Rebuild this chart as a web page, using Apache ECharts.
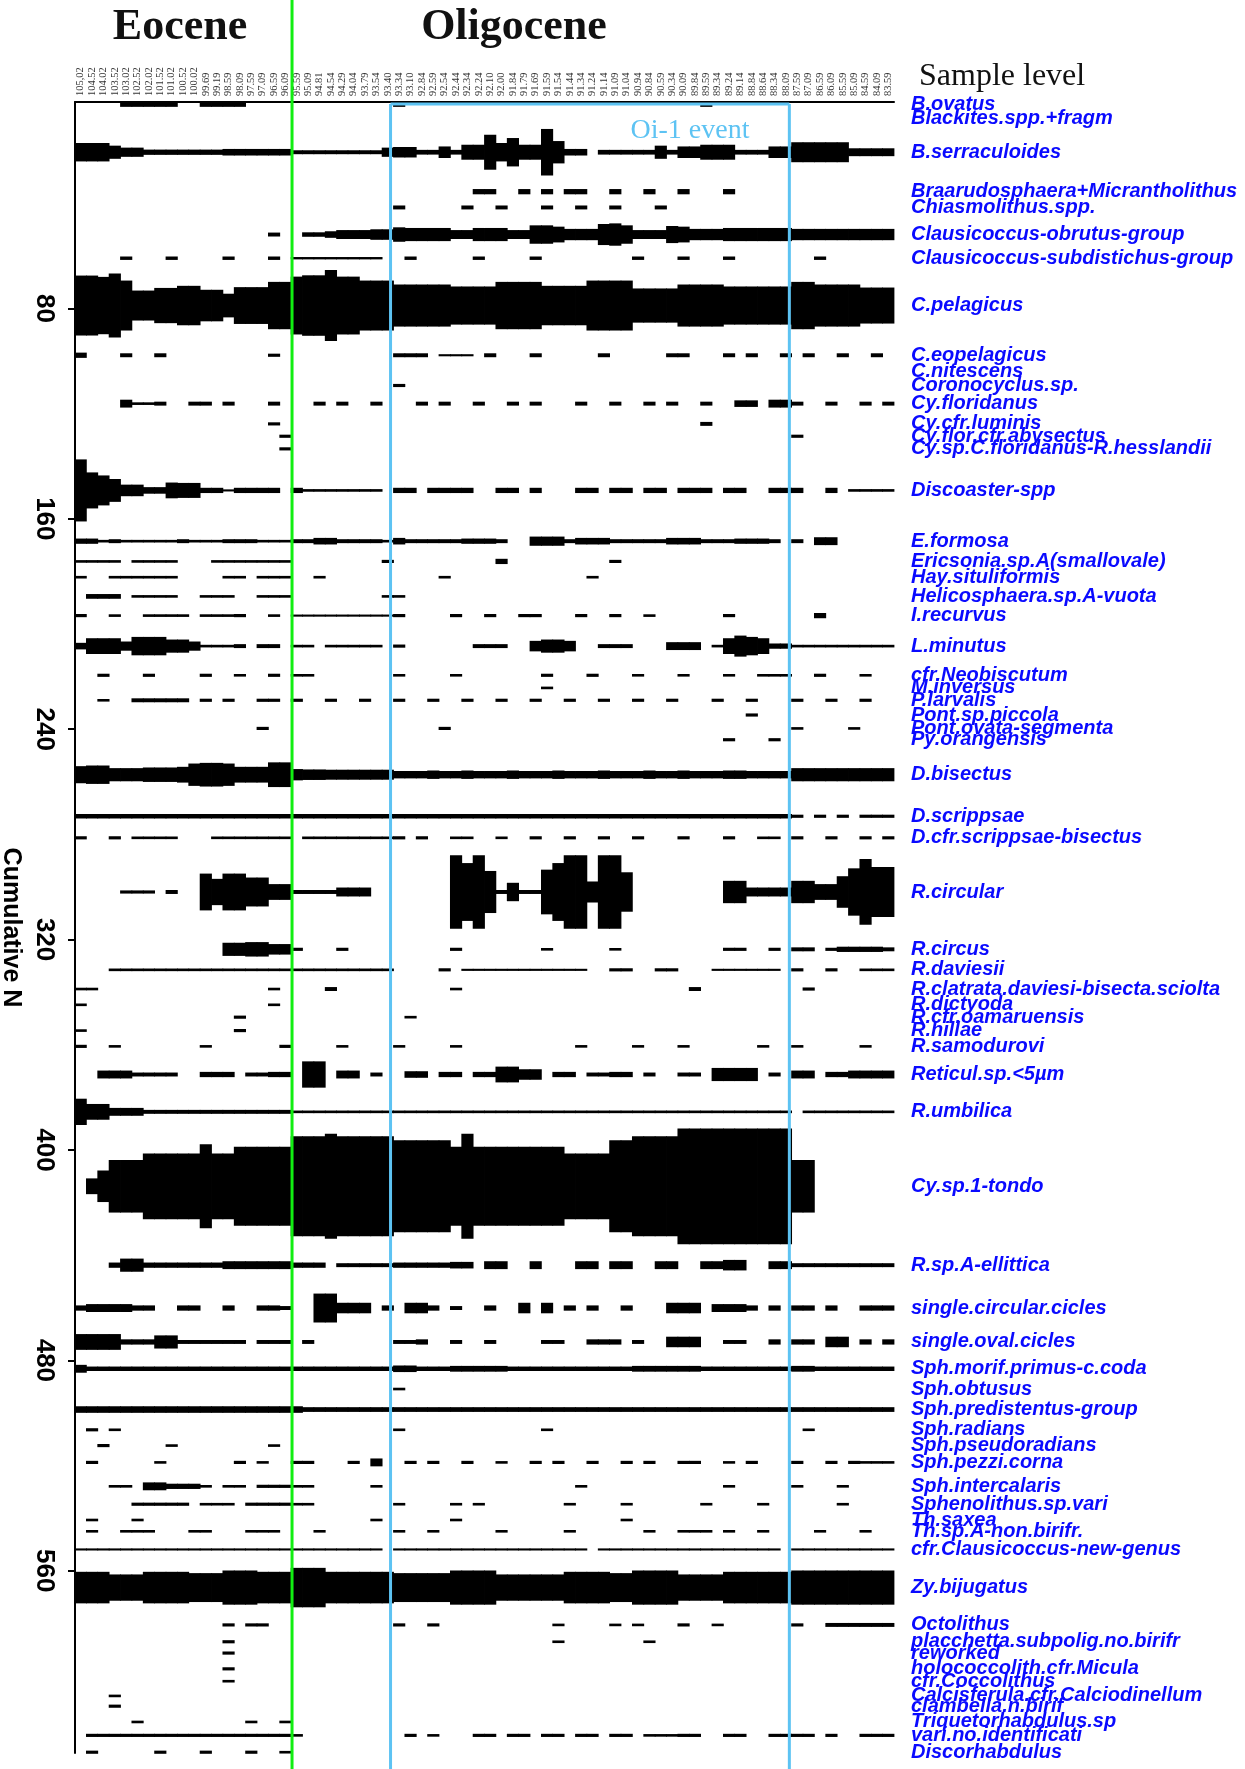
<!DOCTYPE html>
<html>
<head>
<meta charset="utf-8">
<script src="https://cdn.jsdelivr.net/npm/echarts@6/dist/echarts.min.js"></script>
<style>
html,body{margin:0;padding:0;background:#fff}
#chart{width:1245px;height:1769px}
</style>
</head>
<body>
<div id="chart"></div>
<script>
// Sample levels (top axis, old to young)
const sampleLevels = ['105,02','104.52','104.02','103.52','103.02','102.52','102.02','101.52','101.02','100.52',
  '100.02','99.69','99.19','98.59','98.09','97.59','97.09','96.59','96.09','95.59',
  '95.09','94.81','94.54','94.29','94.04','93.79','93.54','93.40','93.34','93.10',
  '92.84','92.59','92.54','92.44','92.34','92.24','92.10','92.00','91.84','91.79',
  '91.69','91.59','91.54','91.44','91.34','91.24','91.14','91.09','91.04','90.94',
  '90.84','90.59','90.34','90.09','89.84','89.59','89.34','89.24','89.14','88.84',
  '88.64','88.34','88.09','87.59','87.09','86.59','86.09','85.59','85.09','84.59',
  '84.09','83.59'];

// Taxa, top to bottom
const taxa = ['B.ovatus','Blackites.spp.+fragm','B.serraculoides','Braarudosphaera+Micrantholithus','Chiasmolithus.spp.',
  'Clausicoccus-obrutus-group','Clausicoccus-subdistichus-group','C.pelagicus','C.eopelagicus','C.nitescens',
  'Coronocyclus.sp.','Cy.floridanus','Cy.cfr.luminis','Cy.flor.cfr.abysectus','Cy.sp.C.floridanus-R.hesslandii',
  'Discoaster-spp','E.formosa','Ericsonia.sp.A(smallovale)','Hay.situliformis','Helicosphaera.sp.A-vuota',
  'I.recurvus','L.minutus','cfr.Neobiscutum','M.inversus','P.larvalis',
  'Pont.sp.piccola','Pont.ovata-segmenta','Py.orangensis','D.bisectus','D.scrippsae',
  'D.cfr.scrippsae-bisectus','R.circular','R.circus','R.daviesii','R.clatrata.daviesi-bisecta.sciolta',
  'R.dictyoda','R.cfr.oamaruensis','R.hillae','R.samodurovi','Reticul.sp.<5µm',
  'R.umbilica','Cy.sp.1-tondo','R.sp.A-ellittica','single.circular.cicles','single.oval.cicles',
  'Sph.morif.primus-c.coda','Sph.obtusus','Sph.predistentus-group','Sph.radians','Sph.pseudoradians',
  'Sph.pezzi.corna','Sph.intercalaris','Sphenolithus.sp.vari','Th.saxea','Th.sp.A-non.birifr.',
  'cfr.Clausicoccus-new-genus','Zy.bijugatus','Octolithus','placchetta.subpolig.no.birifr','reworked',
  'holococcolith.cfr.Micula','cfr.Coccolithus','Calcisferula.cfr.Calciodinellum','clambella.n.birif','Triquetorhabdulus.sp',
  'vari.no.identificati','Discorhabdulus'];

// Baseline of each taxon on the cumulative N scale
const rowCenter = [2.6,7.7,20.6,35.6,41.6, 51.9,60.9,78.9,97.8,103.8,
  109.3,116.2,123.9,128.6,133.4, 149.2,168.5,176.2,182.2,189.5,
  196.8,208.4,219.5,224.3,229.0, 234.6,239.7,244.0,257.3,273.1,
  281.3,301.9,323.7,331.5,338.8, 344.8,349.5,354.6,360.6,371.3,
  385.5,413.8,443.8,460.1,473.0, 483.2,490.9,498.7,506.4,512.4,
  518.8,527.9,534.7,540.7,545.0, 551.9,566.4,580.6,587.0,591.3,
  597.3,602.0,607.6,611.5,617.5, 622.6,629.0];

// Kite thickness (N) of each taxon per sample
const thickness = [
/* B.ovatus */ [0,0,0,0,1.5,1.5,1.5,1.5,1.5,0, 0,1.5,1.5,1.5,1.5,0,0,0,0,0, 0,0,0,0,0,0,0,0,1.5,0, 0,0,0,0,0,0,0,0,0,0, 0,0,0,0,0,0,0,0,0,0, 0,0,0,0,0,1.5,0,0,0,0, 0,0,0,0,0,0,0,0,0,0, 0,0],
/* Blackites */ [0,0,0,0,0,0,0,0,0,0, 0,0,0,0,0,0,0,0,0,0, 0,0,0,0,0,0,0,0,0,0, 0,0,0,0,0,0,0,0,0,0, 0,0,0,0,0,0,0,0,0,0, 0,0,0,0,0,0,0,0,0,0, 0,0,0,0,0,0,0,0,0,0, 0,0],
/* B.serraculoides */ [7,7,7,5,3.5,3.5,2,2,2,2, 2,2,2,2.5,2.5,2.5,2.5,2.5,2.5,1.5, 1.5,1.5,1.5,1.5,1.5,1.5,1.5,3.5,4,4, 1.8,1.8,4.4,1.8,5.7,5.7,13.3,7,10.8,5.7, 5.7,17.7,8.5,2.5,2.5,0,1.8,1.8,1.8,1.8, 1.8,5,1.8,4.4,4.4,5.7,5.7,5.7,1.8,1.8, 1.8,4.4,4.4,7.6,7.6,7.6,7.6,7.6,3,3, 3,3],
/* Braarudosphaera */ [0,0,0,0,0,0,0,0,0,0, 0,0,0,0,0,0,0,0,0,0, 0,0,0,0,0,0,0,0,0,0, 0,0,0,0,0,2,2,0,0,2, 0,2,0,2,2,0,0,2,0,0, 2,0,0,2,0,0,0,2,0,0, 0,0,0,0,0,0,0,0,0,0, 0,0],
/* Chiasmolithus */ [0,0,0,0,0,0,0,0,0,0, 0,0,0,0,0,0,0,0,0,0, 0,0,0,0,0,0,0,0,1.5,0, 0,0,0,0,1.5,0,0,1.5,0,0, 0,1.5,0,0,1.5,0,0,1.5,0,0, 0,1.5,0,0,0,0,0,0,0,0, 0,0,0,0,0,0,0,0,0,0, 0,0],
/* Clausicoccus-obrutus */ [0,0,0,0,0,0,0,0,0,0, 0,0,0,0,0,0,0,1.5,0,0, 1.7,1.7,2.5,3.4,3.4,3.4,4,4,5.5,5, 5,5,5,3.4,3.4,5,5,5,3.4,3.4, 7,7,6,4.3,4.3,4.3,8,8.5,7,3.4, 3.4,3.4,6.5,6,4.3,4.3,4.3,5,5,5, 5,5,5,4.3,4.3,4.3,4.3,4.3,4.3,4.3, 4.3,4.3],
/* Clausicoccus-subdistichus */ [0,0,0,0,1.3,0,0,0,1.3,0, 0,0,0,1.3,0,0,0,1.3,0,0.9, 0.9,0.9,0.9,0.9,0.9,0.9,0.9,0,0,1.3, 0,0,0,0,0,1.3,0,0,0,0, 1.3,0,0,0,0,0,0,0,0,1.3, 0,0,0,1.3,0,0,0,1.3,0,0, 0,0,0,0,0,1.3,0,0,0,0, 0,0],
/* C.pelagicus */ [22.8,22.8,21.8,24.3,19,11.4,11.4,13.4,13.4,15, 15,12,12,9,14,14,14,18,18,22, 23,23,27,22,22,19,19,19,16,16, 16,16,16,14.5,14.5,14.5,14.5,18,18,18, 18,15,15,15,15,19,19,19,19,13, 13,13,13,16,16,16,16,14.5,14.5,14.5, 14.5,14.5,14.5,18,18,16,16,16,16,13.7, 13.7,13.7],
/* C.eopelagicus */ [2,0,0,0,1.5,0,0,1.5,0,0, 0,0,0,0,0,0,0,1.2,0,0, 0,0,0,0,0,0,0,0,1.5,1.5, 1.5,0,0.8,0.8,0.8,0,1.5,0,0,0, 1.5,0,0,0,0,0,1.5,0,0,0, 0,0,1.5,1.5,0,0,0,1.5,0,1.5, 0,0,1.5,0,1.5,0,0,1.5,0,0, 1.5,0],
/* C.nitescens */ [0,0,0,0,0,0,0,0,0,0, 0,0,0,0,0,0,0,0,0,0, 0,0,0,0,0,0,0,0,0,0, 0,0,0,0,0,0,0,0,0,0, 0,0,0,0,0,0,0,0,0,0, 0,0,0,0,0,0,0,0,0,0, 0,0,0,0,0,0,0,0,0,0, 0,0],
/* Coronocyclus */ [0,0,0,0,0,0,0,0,0,0, 0,0,0,0,0,0,0,0,0,0, 0,0,0,0,0,0,0,0,1.2,0, 0,0,0,0,0,0,0,0,0,0, 0,0,0,0,0,0,0,0,0,0, 0,0,0,0,0,0,0,0,0,0, 0,0,0,0,0,0,0,0,0,0, 0,0],
/* Cy.floridanus */ [0,0,0,0,3,1,1,1.5,0,0, 1.5,1.5,0,1.5,0,0,0,1.5,0,0, 0,1.5,0,1.5,0,0,1.5,0,0,0, 1.5,0,1.5,0,0,1.5,0,0,1.5,0, 1.5,0,0,0,1.5,0,0,1.5,0,0, 1.5,0,1.5,0,0,1.5,0,0,2.5,2.5, 0,3,3,1.5,0,0,1.5,0,0,1.5, 0,1.5],
/* Cy.cfr.luminis */ [0,0,0,0,0,0,0,0,0,0, 0,0,0,0,0,0,0,1.2,0,0, 0,0,0,0,0,0,0,0,0,0, 0,0,0,0,0,0,0,0,0,0, 0,0,0,0,0,0,0,0,0,0, 0,0,0,0,0,1.5,0,0,0,0, 0,0,0,0,0,0,0,0,0,0, 0,0],
/* Cy.flor.cfr.abysectus */ [0,0,0,0,0,0,0,0,0,0, 0,0,0,0,0,0,0,0,1.2,0, 0,0,0,0,0,0,0,0,0,0, 0,0,0,0,0,0,0,0,0,0, 0,0,0,0,0,0,0,0,0,0, 0,0,0,0,0,0,0,0,0,0, 0,0,0,1.2,0,0,0,0,0,0, 0,0],
/* Cy.sp.C.floridanus */ [0,0,0,0,0,0,0,0,0,0, 0,0,0,0,0,0,0,0,1.2,0, 0,0,0,0,0,0,0,0,0,0, 0,0,0,0,0,0,0,0,0,0, 0,0,0,0,0,0,0,0,0,0, 0,0,0,0,0,0,0,0,0,0, 0,0,0,0,0,0,0,0,0,0, 0,0],
/* Discoaster-spp */ [23.6,13.7,11.4,8.7,4.4,4.4,2.5,2.5,6,5.7, 5.7,2,2,0.8,2,2,2,2,0,2, 1,1,1,1,1,1,1,0,2,2, 0,2,2,2,2,0,0,2,2,0, 2,0,0,0,2,2,0,2,2,0, 2,2,0,2,2,2,0,2,2,0, 0,2,2,2,0,0,2,0,1,1, 1,1],
/* E.formosa */ [2,2,1,1.5,1,1,1,1,1,1.5, 1,1,1,1.5,1.5,1.5,1,1,1,1.5, 1.5,2.5,2.5,1.5,1.5,1.5,1.5,1,2.5,1.5, 1.5,1.5,1.5,1.5,2,2,2,1.5,0,0, 3.5,3.5,3.5,1.5,2.5,2.5,2.5,1.5,1.5,1.5, 1.5,1.5,2.5,2.5,2.5,1.5,1.5,1.5,2,2, 2,1.5,0,1.5,0,3,3,0,0,0, 0,0],
/* Ericsonia */ [1,1,1,1,0,1,1,1,1,0, 0,0,1,1,1,1,1,1,1,0, 0,0,0,0,0,0,0,1.2,0,0, 0,0,0,0,0,0,0,2,0,0, 0,0,0,0,0,0,0,1.2,0,0, 0,0,0,0,0,0,0,0,0,0, 0,0,0,0,0,0,0,0,0,0, 0,0],
/* Hay.situliformis */ [1,0,0,1,1,1,1,1,1,0, 0,0,0,1,1,0,1,1,1,0, 0,1,0,0,0,0,0,0,0,0, 0,0,1,0,0,0,0,0,0,0, 0,0,0,0,0,1,0,0,0,0, 0,0,0,0,0,0,0,0,0,0, 0,0,0,0,0,0,0,0,0,0, 0,0],
/* Helicosphaera */ [0,1.8,1.8,1.8,0,1,1,1,1,0, 0,1,1,1,0,0,1,1,1,0, 0,0,0,0,0,0,0,1,1,0, 0,0,0,0,0,0,0,0,0,0, 0,0,0,0,0,0,0,0,0,0, 0,0,0,0,0,0,0,0,0,0, 0,0,0,0,0,0,0,0,0,0, 0,0],
/* I.recurvus */ [1.2,0,0,1,0,0,1,1,1,1, 0,1,1,1,1.2,0,0,1,0,0.8, 0.8,0.8,0.8,0.8,0.8,0.8,0.8,0.8,1.2,0, 0,0,0,1.2,0,0,1.2,0,0,1.2, 1.2,0,0,0,1.2,0,0,1.2,0,0, 1,0,0,0,0,0,0,1.2,0,0, 0,0,0,0,0,2,0,0,0,0, 0,0],
/* L.minutus */ [2.5,6,6,6,3.5,7,7,7,5,5, 3.5,1,1,1,1.5,0,1.5,1.5,0,1, 1,0,1,1,1,1,1,0,1.2,0, 0,0,0,0,0,1.5,1.5,1.5,0,0, 4,5,5,4,0,0,1.5,1.5,1.5,0, 0,0,3,3,3,0,1,6,8,7, 6,2,2,1,1,1,1,1,1,1, 1,1],
/* cfr.Neobiscutum */ [0,0,1.2,0,0,0,1.2,0,0,0, 0,1.2,0,0,1,0,0,1.2,0,1, 1,0,0,0,0,0,0,0,1,0, 0,0,0,1,0,0,0,0,0,0, 0,1.2,0,0,0,1.2,0,0,0,1, 0,0,0,1,0,0,0,1,0,0, 1,1,1,0,0,1.2,0,0,0,1, 0,0],
/* M.inversus */ [0,0,0,0,0,0,0,0,0,0, 0,0,0,0,0,0,0,0,0,0, 0,0,0,0,0,0,0,0,0,0, 0,0,0,0,0,0,0,0,0,0, 0,1,0,0,0,0,0,0,0,0, 0,0,0,0,0,0,0,0,0,0, 0,0,0,0,0,0,0,0,0,0, 0,0],
/* P.larvalis */ [0,0,1,0,0,1.5,1.5,1.5,1.5,1.5, 0,1.2,0,1.2,0,0,1.2,1.2,0,1.2, 0,0,1.2,0,0,1.2,0,0,1.2,0, 0,1.2,0,0,1.2,0,0,1.2,0,0, 1.2,0,0,1.2,0,0,1.2,0,0,1.2, 0,0,1.2,0,0,0,1.2,0,0,1.2, 0,0,0,1.2,0,0,1.2,0,0,1.2, 0,0],
/* Pont.sp.piccola */ [0,0,0,0,0,0,0,0,0,0, 0,0,0,0,0,0,0,0,0,0, 0,0,0,0,0,0,0,0,0,0, 0,0,0,0,0,0,0,0,0,0, 0,0,0,0,0,0,0,0,0,0, 0,0,0,0,0,0,0,0,0,1.2, 0,0,0,0,0,0,0,0,0,0, 0,0],
/* Pont.ovata-segmenta */ [0,0,0,0,0,0,0,0,0,0, 0,0,0,0,0,0,1.2,0,0,0, 0,0,0,0,0,0,0,0,0,0, 0,0,1.2,0,0,0,0,0,0,0, 0,0,0,0,0,0,0,0,0,0, 0,0,0,0,0,0,0,0,0,0, 0,0,0,1,0,0,0,0,1,0, 0,0],
/* Py.orangensis */ [0,0,0,0,0,0,0,0,0,0, 0,0,0,0,0,0,0,0,0,0, 0,0,0,0,0,0,0,0,0,0, 0,0,0,0,0,0,0,0,0,0, 0,0,0,0,0,0,0,0,0,0, 0,0,0,0,0,0,0,1.2,0,0, 0,1.2,0,0,0,0,0,0,0,0, 0,0],
/* D.bisectus */ [6.5,7,7,5,5,5,5.5,5.5,5.5,6, 8.5,9,9,8.5,6,6,6,9.4,9.4,4.3, 4,4,3.8,3.8,3.8,3.8,3.8,3.8,2.8,2.8, 2.8,3.2,2.8,2.8,3.2,2.8,2.8,2.8,3.2,2.8, 2.8,2.8,3.2,2.8,2.8,2.8,3.2,2.8,2.8,2.8, 3.2,2.8,2.8,3.2,2.8,2.8,2.8,3.2,3.2,2.8, 2.8,2.8,2.8,5,5,5,5,5,5,5, 5,5],
/* D.scrippsae */ [1.7,1.7,1.7,1.7,1.7,1.7,1.7,1.7,1.7,1.7, 1.7,1.7,1.7,1.7,1.7,1.7,1.7,1.7,1.7,1.7, 1.7,1.7,1.7,1.7,1.7,1.7,1.7,1.7,1.7,1.7, 1.7,1.7,1.7,1.7,1.7,1.7,1.7,1.7,1.7,1.7, 1.7,1.7,1.7,1.7,1.7,1.7,1.7,1.7,1.7,1.7, 1.7,1.7,1.7,1.7,1.7,1.7,1.7,1.7,1.7,1.7, 1.7,1.7,1.7,1.2,0,1.2,0,1.2,0,1.2, 1.2,1.2],
/* D.cfr.scrippsae-bisectus */ [1.2,0,0,1.2,0,1,1,1,1,0, 0,0,1,1,1,1,1,1,1,0, 1,1,1,1,1,1,1,1,1.2,0, 1.2,0,0,1,1,0,0,1,0,0, 1.2,0,0,1.2,0,0,1.2,0,0,1.2, 0,0,0,1.2,0,0,0,1.2,0,0, 1,1,0,1.2,0,0,1.2,0,0,1.2, 0,1.2],
/* R.circular */ [0,0,0,0,1.2,1.2,1.2,0,1.5,0, 0,14,10,14,14,11,11,6,6,1.5, 1.5,1.5,1.5,3.4,3.4,3.4,0,0,0,0, 0,0,0,28,22,28,16,1.5,7,1.5, 1.5,17,22,28,28,8,28,28,15,0, 0,0,0,0,0,0,0,8.5,8.5,3.4, 3.4,3.4,3.4,8.5,8.5,6,6,12,18,25, 19,19],
/* R.circus */ [0,0,0,0,0,0,0,0,0,0, 0,0,0,5,5,5.5,5.5,4,4,1.2, 0,0,0,1.2,0,0,0,0,0,0, 0,0,0,1.2,0,0,0,0,0,0, 0,1,0,0,0,0,0,1,0,0, 0,0,0,0,0,0,0,1.2,1.2,0, 0,1.2,0,1.5,1.5,0,1.2,2,2,2, 2,1.5],
/* R.daviesii */ [0,0,0,1,1,1,1,1,1,1, 1,1,1,1,1,1,1,1,1,1, 1,1,1,1,1,1,1,1,0,0, 0,0,1.2,0,0.8,0.8,0.8,0.8,0.8,0.8, 0.8,0.8,0.8,0.8,0.8,0,0,1.2,1.2,0, 0,1.2,1.2,0,0,0,0.8,0.8,0.8,0.8, 0.8,0.8,0,1.2,0,0,1.2,0,0,1, 1,1],
/* R.clatrata */ [1,1,0,0,0,0,0,0,0,0, 0,0,0,0,0,0,0,1,0,0, 0,0,1.5,0,0,0,0,0,0,0, 0,0,0,1,0,0,0,0,0,0, 0,0,0,0,0,0,0,0,0,0, 0,0,0,0,1.5,0,0,0,0,0, 0,0,0,0,1.2,0,0,0,0,0, 0,0],
/* R.dictyoda */ [1,0,0,0,0,0,0,0,0,0, 0,0,0,0,0,0,0,1,0,0, 0,0,0,0,0,0,0,0,0,0, 0,0,0,0,0,0,0,0,0,0, 0,0,0,0,0,0,0,0,0,0, 0,0,0,0,0,0,0,0,0,0, 0,0,0,0,0,0,0,0,0,0, 0,0],
/* R.cfr.oamaruensis */ [0,0,0,0,0,0,0,0,0,0, 0,0,0,0,1.2,0,0,0,0,0, 0,0,0,0,0,0,0,0,0,1, 0,0,0,0,0,0,0,0,0,0, 0,0,0,0,0,0,0,0,0,0, 0,0,0,0,0,0,0,0,0,0, 0,0,0,0,0,0,0,0,0,0, 0,0],
/* R.hillae */ [1,0,0,0,0,0,0,0,0,0, 0,0,0,0,1.2,0,0,0,0,0, 0,0,0,0,0,0,0,0,0,0, 0,0,0,0,0,0,0,0,0,0, 0,0,0,0,0,0,0,0,0,0, 0,0,0,0,0,0,0,0,0,0, 0,0,0,0,0,0,0,0,0,0, 0,0],
/* R.samodurovi */ [1.2,0,0,1,0,0,0,0,0,0, 0,1,0,0,0,0,0,0,1.2,0, 0,0,0,1,0,0,0,0,1,0, 0,0,0,1,0,0,0,0,0,0, 0,0,0,0,1,0,0,0,0,1, 0,0,0,1,0,0,0,0,0,0, 1,0,0,1,0,0,0,0,0,1, 0,0],
/* Reticul.sp.<5µm */ [0,0,3,3,3,1.5,1.5,1.5,1.5,0, 0,2,2,2,0,1.5,1.5,2,2,0, 10,10,0,3,3,0,1.5,0,0,2.5, 2.5,0,2,2,0,2,2,6,6,4, 4,0,2,2,0,1.5,1.5,2,2,0, 1.5,0,0,1.5,1.5,0,5,5,5,5, 0,1.5,0,3,3,0,2,2,3,3, 3,3],
/* R.umbilica */ [10,6,6,3,3,3,1.5,1.5,1.5,1.5, 1.5,1.5,1.5,1.5,1.5,1.5,1.5,1.5,1.5,1, 1,1,1,1,1,1,1,1,1,1, 1,1,1,1,1,1,1,1,1,1, 1,1,1,1,1,1,1,1,1,1, 1,1,1,1,1,1,1,1,1,1, 1,1,1,0,1,1,1,1,1,1, 1,1],
/* Cy.sp.1-tondo */ [0,6,12,20,20,20,25,25,25,25, 25,32,25,25,30,30,30,30,30,38, 38,38,40,38,38,38,38,38,35,35, 35,35,35,30,40,30,30,30,30,30, 30,30,30,25,25,25,25,35,35,38, 38,38,38,44,44,44,44,44,44,44, 44,44,44,20,20,0,0,0,0,0, 0,0],
/* R.sp.A-ellittica */ [0,0,0,2,5,5,2,2,2,2, 2,2,2,3,3,3,3,3,3,2, 2,2,0,1.5,1.5,1.5,1.5,1.5,2,2, 2,2,2,2.5,2.5,0,3,3,0,0, 3,0,0,0,3,3,0,3,3,0, 0,3,3,0,0,3,3,4,4,0, 0,3,3,1.5,1.5,1.5,1.5,1.5,1.5,1.5, 1.5,1.5],
/* single.circular.cicles */ [2,3,3,3,3,2,2,0,0,2, 2,0,0,2,0,0,2,2,1.5,0, 0,11,11,4,4,4,0,2,0,4, 4,2,0,1.5,0,0,2,0,0,4, 0,4,0,2,0,2,0,0,2,0, 0,0,4,4,4,0,3,3,3,2, 0,2,0,2,2,0,2,0,0,2, 2,2],
/* single.oval.cicles */ [6,6,6,6,2,2,2,5,5,1.5, 1.5,1.5,1.5,1.5,1.5,0,1.5,1.5,1.5,0, 1.5,0,0,0,0,0,0,0,1.5,1.5, 2,0,0,1.5,0,0,1.5,0,0,0, 0,1.5,1.5,0,0,2,2,2,0,1.5, 0,0,4,4,4,0,0,1.5,1.5,0, 0,2,0,2,2,0,4,4,0,2, 0,2],
/* Sph.morif.primus-c.coda */ [3,1.7,1.7,1.7,1.7,1.7,1.7,1.7,1.7,1.7, 1.7,1.7,1.7,1.7,1.7,1.7,1.7,1.7,1.7,1.7, 1.7,1.7,1.7,1.7,1.7,1.7,1.7,1.7,2.5,2.5, 1.7,1.7,1.7,2.2,2.2,2.2,2.2,2.2,1.7,1.7, 1.7,1.7,1.7,1.7,1.7,1.7,1.7,1.7,1.7,2.2, 2.2,2.2,2.2,2.2,2.2,1.7,1.7,1.7,1.7,1.7, 1.7,1.7,1.7,2.2,2.2,1.7,1.7,1.7,1.7,1.7, 1.7,1.7],
/* Sph.obtusus */ [0,0,0,0,0,0,0,0,0,0, 0,0,0,0,0,0,0,0,0,0, 0,0,0,0,0,0,0,0,1,0, 0,0,0,0,0,0,0,0,0,0, 0,0,0,0,0,0,0,0,0,0, 0,0,0,0,0,0,0,0,0,0, 0,0,0,0,0,0,0,0,0,0, 0,0],
/* Sph.predistentus-group */ [2.5,2.5,2.5,2.5,2.5,2.5,2.5,2.5,2.5,2.5, 2.5,2.5,2.5,2.5,2.5,2.5,2.5,2.5,2.5,2.5, 1.8,1.8,1.8,1.8,1.8,1.8,1.8,1.8,1.8,1.8, 1.8,1.8,1.8,1.8,1.8,1.8,1.8,1.8,1.8,1.8, 1.8,1.8,1.8,1.8,1.8,1.8,1.8,1.8,1.8,1.8, 1.8,1.8,1.8,1.8,1.8,1.8,1.8,1.8,1.8,1.8, 1.8,1.8,1.8,1.8,1.8,1.8,1.8,1.8,1.8,1.8, 1.8,1.8],
/* Sph.radians */ [0,1.2,0,1,0,0,0,0,0,0, 0,0,0,0,0,0,0,0,0,0, 0,0,0,0,0,0,0,0,1,0, 0,0,0,0,0,0,0,0,0,0, 0,1,0,0,0,0,0,0,0,0, 0,0,0,0,0,0,0,0,0,0, 0,0,0,0,1,0,0,0,0,0, 0,0],
/* Sph.pseudoradians */ [0,0,1.2,0,0,0,0,0,1,0, 0,0,0,0,0,0,0,1,0,0, 0,0,0,0,0,0,0,0,0,0, 0,0,0,0,0,0,0,0,0,0, 0,0,0,0,0,0,0,0,0,0, 0,0,0,0,0,0,0,0,0,0, 0,0,0,0,0,0,0,0,0,0, 0,0],
/* Sph.pezzi.corna */ [0,1.2,0,0,0,0,0,1,0,0, 0,0,0,0,1.2,0,1,0,0,1.2, 1.2,0,0,0,1.2,0,3,0,0,1.2, 0,1.2,0,0,1.2,0,0,1,0,0, 1.2,0,1.2,0,0,1.2,0,0,1.2,0, 1.2,0,0,1.2,1.2,0,0,1,0,1.2, 0,0,0,1.2,0,0,1.2,0,1.2,1, 1,1],
/* Sph.intercalaris */ [0,0,0,1,1,0,3,3,2,2, 2,1,0,1,1,0,1.2,1.2,1.2,1, 1,0,0,0,0,0,1,0,0,0, 0,0,0,0,0,0,0,0,0,0, 0,0,0,0,1,0,0,0,0,0, 0,0,0,0,0,0,0,1,0,0, 0,0,0,1,0,0,0,1,0,0, 0,0],
/* Sphenolithus.sp.vari */ [0,0,0,0,0,1.2,1.2,1.2,1.2,1.2, 0,1,1,1,0,1.2,1.2,1.2,1.2,1, 1,0,0,0,0,0,0,0,1,0, 0,0,0,1,0,1,0,0,0,0, 0,0,0,1,0,0,0,0,1,0, 0,0,0,0,0,1,0,0,0,0, 1,0,0,0,0,0,0,1,0,0, 0,0],
/* Th.saxea */ [0,1,0,0,0,1,0,0,0,0, 0,0,0,0,0,0,0,0,0,0, 0,0,0,0,0,0,1,0,0,0, 0,0,0,1,0,0,0,0,0,0, 0,0,0,0,0,0,0,0,1,0, 0,0,0,0,0,0,0,0,0,0, 0,0,0,0,0,0,0,0,0,0, 0,0],
/* Th.sp.A-non.birifr. */ [0,1,0,0,1,1,1,0,0,0, 1,1,0,0,0,1,1,1,0,0, 0,1,0,0,0,0,0,0,1,0, 0,1,0,0,0,0,0,1,0,0, 0,0,0,1,0,0,0,0,0,0, 1,0,0,1,1,1,0,1,0,0, 1,0,0,0,0,1,0,0,0,1, 0,0],
/* cfr.Clausicoccus-new-genus */ [0.8,0.8,0.8,0.8,0.8,0.8,0.8,0.8,0.8,0.8, 0.8,0.8,0.8,0.8,0.8,0.8,0.8,0.8,0.8,0.8, 0.8,0.8,0.8,0.8,0.8,0.8,0.8,0,0.8,0.8, 0.8,0.8,0.8,0.8,0.8,0.8,0.8,0.8,0.8,0.8, 0.8,0.8,0.8,0.8,0.8,0,0.8,0.8,0.8,0.8, 0.8,0.8,0.8,0.8,0.8,0.8,0.8,0.8,0.8,0.8, 0.8,0.8,0,0.8,0.8,0.8,0.8,0.8,0.8,0.8, 0.8,0.8],
/* Zy.bijugatus */ [12,12,12,10,10,10,12,12,12,12, 11,11,11,13,13,13,12,12,12,15, 15,15,12,12,12,12,12,12,11,11, 11,11,11,13,13,13,13,10,10,10, 10,10,10,12,12,12,12,11,11,13, 13,13,13,10,10,10,10,12,12,12, 12,12,12,13,13,13,13,13,13,13, 13,13],
/* Octolithus */ [0,0,0,0,0,0,0,0,0,0, 0,0,0,1.2,0,1.2,1.2,0,0,0, 0,0,0,0,0,0,0,0,1.2,0, 0,1.2,0,0,0,0,0,0,0,0, 0,0,1,0,0,0,0,1,0,1, 0,0,0,1.2,0,0,1,0,0,0, 0,0,0,1.2,0,0,1.5,1.5,1.5,1.5, 1.5,1.5],
/* placchetta */ [0,0,0,0,0,0,0,0,0,0, 0,0,0,1.2,0,0,0,0,0,0, 0,0,0,0,0,0,0,0,0,0, 0,0,0,0,0,0,0,0,0,0, 0,0,1,0,0,0,0,0,0,0, 1,0,0,0,0,0,0,0,0,0, 0,0,0,0,0,0,0,0,0,0, 0,0],
/* reworked */ [0,0,0,0,0,0,0,0,0,0, 0,0,0,1.2,0,0,0,0,0,0, 0,0,0,0,0,0,0,0,0,0, 0,0,0,0,0,0,0,0,0,0, 0,0,0,0,0,0,0,0,0,0, 0,0,0,0,0,0,0,0,0,0, 0,0,0,0,0,0,0,0,0,0, 0,0],
/* holococcolith */ [0,0,0,0,0,0,0,0,0,0, 0,0,0,1.2,0,0,0,0,0,0, 0,0,0,0,0,0,0,0,0,0, 0,0,0,0,0,0,0,0,0,0, 0,0,0,0,0,0,0,0,0,0, 0,0,0,0,0,0,0,0,0,0, 0,0,0,0,0,0,0,0,0,0, 0,0],
/* cfr.Coccolithus */ [0,0,0,0,0,0,0,0,0,0, 0,0,0,1,0,0,0,0,0,0, 0,0,0,0,0,0,0,0,0,0, 0,0,0,0,0,0,0,0,0,0, 0,0,0,0,0,0,0,0,0,0, 0,0,0,0,0,0,0,0,0,0, 0,0,0,0,0,0,0,0,0,0, 0,0],
/* Calcisferula */ [0,0,0,1,0,0,0,0,0,0, 0,0,0,0,0,0,0,0,0,0, 0,0,0,0,0,0,0,0,0,0, 0,0,0,0,0,0,0,0,0,0, 0,0,0,0,0,0,0,0,0,0, 0,0,0,0,0,0,0,0,0,0, 0,0,0,0,0,0,0,0,0,0, 0,0],
/* clambella */ [0,0,0,1.2,0,0,0,0,0,0, 0,0,0,0,0,0,0,0,0,0, 0,0,0,0,0,0,0,0,0,0, 0,0,0,0,0,0,0,0,0,0, 0,0,0,0,0,0,0,0,0,0, 0,0,0,0,0,0,0,0,0,0, 0,0,0,0,0,0,0,0,0,0, 0,0],
/* Triquetorhabdulus */ [0,0,0,0,0,1,0,0,0,0, 0,0,0,0,0,1,0,0,1,0, 0,0,0,0,0,0,0,0,0,0, 0,0,0,0,0,0,0,0,0,0, 0,0,0,0,0,0,0,0,0,0, 0,0,0,0,0,0,0,0,0,0, 0,0,0,0,0,0,0,0,0,0, 0,0],
/* vari.no.identificati */ [0,1.2,1.2,1.2,1.2,1.2,1.2,1.2,1.2,1.2, 1.2,1.2,1.2,1.2,1.2,1.2,1.2,1.2,1.2,1, 0,0,0,0,0,0,0,0,0,1.2, 0,1,0,0,0,1.2,1.2,0,1.2,1.2, 0,1.2,1.2,0,1.2,1.2,0,1.2,1.2,0, 1,1,1,1.2,1.2,0,0,1.2,1.2,0, 0,1.2,1.2,1.2,1.2,0,1.2,0,0,1.2, 1.2,1.2],
/* Discorhabdulus */ [0,1.2,0,0,0,0,0,1.2,0,0, 0,1.2,0,0,0,1.2,0,0,1,0, 0,0,0,0,0,0,0,0,0,0, 0,0,0,0,0,0,0,0,0,0, 0,0,0,0,0,0,0,0,0,0, 0,0,0,0,0,0,0,0,0,0, 0,0,0,0,0,0,0,0,0,0, 0,0]
];

// Cumulative N axis
const yTicks = [80, 160, 240, 320, 400, 480, 560];
const yTop = 1.5, yBottom = 629.3;

// Reference boundaries, in sample-index units (sample centres at integers)
const eoceneOligoceneBoundary = 18.58;
const oi1Start = 27.24, oi1End = 62.3;

const chart = echarts.init(document.getElementById('chart'));

function renderRow(params, api) {
  const r = params.dataIndex;
  const vals = thickness[r];
  const c = rowCenter[r];
  const band = api.size([1, 0])[0];
  const children = [];
  for (let i = 0; i < vals.length; i++) {
    const v = vals[i];
    if (!v) continue;
    const top = api.coord([i, c - v / 2]);
    const bot = api.coord([i, c + v / 2]);
    // neighbouring blocks overlap slightly so the kite reads as one solid shape
    children.push({
      type: 'rect',
      shape: { x: top[0] - band / 2 - 0.4, y: top[1], width: band + 0.8, height: bot[1] - top[1] },
      style: { fill: '#000' }
    });
  }
  const lab = api.coord([vals.length - 1, c]);
  children.push({
    type: 'text',
    x: lab[0] + band / 2 + 17,
    y: lab[1],
    style: {
      text: taxa[r],
      fill: '#0a0aff',
      font: 'italic bold 20px "Liberation Sans", Arial, sans-serif',
      textAlign: 'left',
      textVerticalAlign: 'middle'
    }
  });
  return { type: 'group', children };
}

chart.setOption({
  animation: false,
  backgroundColor: '#fff',
  grid: { left: 75, right: 351, top: 102, bottom: 16, containLabel: false, outerBoundsMode: 'none' },
  xAxis: {
    type: 'category',
    position: 'top',
    data: sampleLevels,
    axisLine: { lineStyle: { color: '#000', width: 2 } },
    axisTick: { show: false },
    axisLabel: { interval: 0, rotate: -90, fontFamily: 'Liberation Serif', fontSize: 10.5, color: '#333', margin: 6 },
    splitLine: { show: false }
  },
  yAxis: {
    type: 'value',
    inverse: true,
    min: yTop,
    max: yBottom,
    name: 'Cumulative N',
    nameLocation: 'middle',
    nameRotate: -90,
    nameGap: 52,
    nameTextStyle: { fontFamily: 'Liberation Sans', fontWeight: 'bold', fontSize: 25, color: '#000' },
    axisLine: { show: true, lineStyle: { color: '#000', width: 2 } },
    axisTick: { show: true, customValues: yTicks, length: 7, lineStyle: { color: '#000', width: 2 } },
    axisLabel: { customValues: yTicks, rotate: -90, fontFamily: 'Liberation Sans', fontWeight: 'bold', fontSize: 26, color: '#000', margin: 18 },
    splitLine: { show: false }
  },
  series: [{
    type: 'custom',
    renderItem: renderRow,
    clip: false,
    silent: true,
    data: rowCenter.map((c, r) => [0, c])
  }]
});

// Epoch labels and the Oi-1 reference lines
const x0 = chart.convertToPixel({ xAxisIndex: 0 }, 0);
const bandW = chart.convertToPixel({ xAxisIndex: 0 }, 1) - x0;
const px = v => x0 + v * bandW;
const topY = chart.convertToPixel({ yAxisIndex: 0 }, yTop);
const gx = px(eoceneOligoceneBoundary), b1 = px(oi1Start), b2 = px(oi1End);
const blue = '#5dc3f3';
chart.setOption({
  graphic: [
    { type: 'line', shape: { x1: gx, y1: 0, x2: gx, y2: 1769 }, style: { stroke: '#11ee11', lineWidth: 3 }, z: 100 },
    { type: 'line', shape: { x1: b1, y1: topY + 2, x2: b1, y2: 1769 }, style: { stroke: blue, lineWidth: 3 }, z: 100 },
    { type: 'line', shape: { x1: b2, y1: topY + 2, x2: b2, y2: 1769 }, style: { stroke: blue, lineWidth: 3 }, z: 100 },
    { type: 'line', shape: { x1: b1, y1: topY + 2, x2: b2, y2: topY + 2 }, style: { stroke: blue, lineWidth: 3 }, z: 100 },
    { type: 'text', x: 180, y: 28, style: { text: 'Eocene', font: 'bold 44px "Liberation Serif", serif', fill: '#111', textAlign: 'center', textVerticalAlign: 'middle' }, z: 100 },
    { type: 'text', x: 514, y: 28, style: { text: 'Oligocene', font: 'bold 44px "Liberation Serif", serif', fill: '#111', textAlign: 'center', textVerticalAlign: 'middle' }, z: 100 },
    { type: 'text', x: 919, y: 77, style: { text: 'Sample level', font: '32px "Liberation Serif", serif', fill: '#111', textAlign: 'left', textVerticalAlign: 'middle' }, z: 100 },
    { type: 'text', x: 690, y: 131, style: { text: 'Oi-1 event', font: '28px "Liberation Serif", serif', fill: blue, textAlign: 'center', textVerticalAlign: 'middle' }, z: 100 }
  ]
});
</script>
</body>
</html>
